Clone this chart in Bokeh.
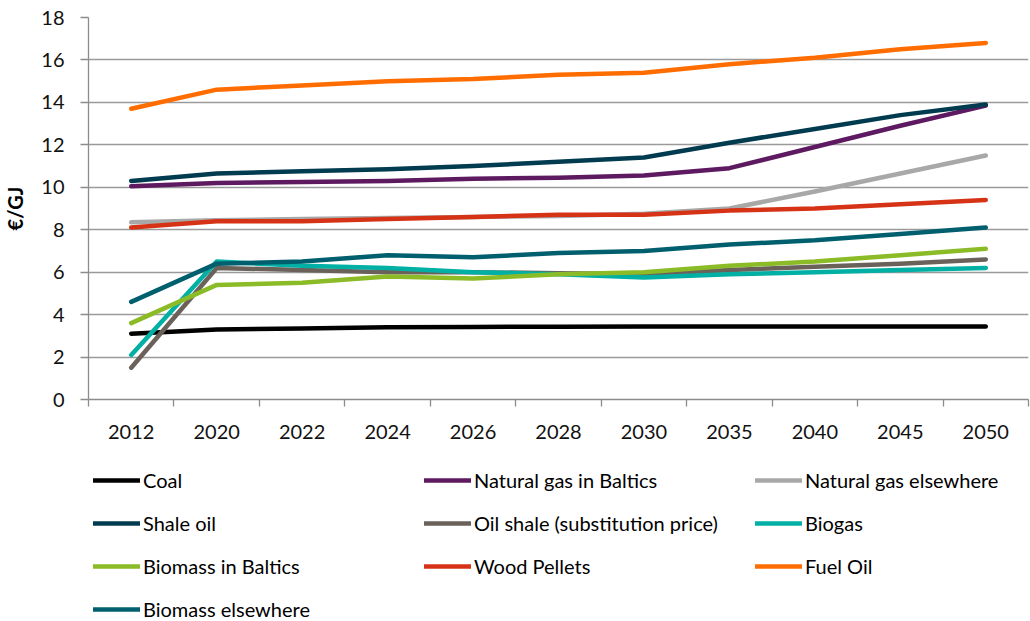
from bokeh.plotting import figure
from bokeh.layouts import column
from bokeh.models import Range1d, FixedTicker, Legend, LegendItem
from bokeh.embed import file_html
from bokeh.resources import INLINE

years = ["2012", "2020", "2022", "2024", "2026", "2028", "2030", "2035", "2040", "2045", "2050"]

coal = [3.1, 3.3, 3.35, 3.4, 3.42, 3.43, 3.44, 3.44, 3.44, 3.44, 3.44]
natural_gas_baltics = [10.05, 10.2, 10.25, 10.3, 10.4, 10.45, 10.55, 10.9, 11.9, 12.9, 13.85]
natural_gas_elsewhere = [8.35, 8.45, 8.5, 8.55, 8.6, 8.65, 8.75, 9.0, 9.8, 10.65, 11.5]
shale_oil = [10.3, 10.65, 10.75, 10.85, 11.0, 11.2, 11.4, 12.1, 12.75, 13.4, 13.9]
oil_shale = [1.5, 6.2, 6.1, 6.0, 6.0, 5.95, 5.9, 6.1, 6.25, 6.4, 6.6]
biogas = [2.1, 6.5, 6.3, 6.2, 6.0, 5.9, 5.75, 5.9, 6.0, 6.1, 6.2]
biomass_baltics = [3.6, 5.4, 5.5, 5.8, 5.7, 5.9, 6.0, 6.3, 6.5, 6.8, 7.1]
wood_pellets = [8.1, 8.4, 8.4, 8.5, 8.6, 8.7, 8.7, 8.9, 9.0, 9.2, 9.4]
fuel_oil = [13.7, 14.6, 14.8, 15.0, 15.1, 15.3, 15.4, 15.8, 16.1, 16.5, 16.8]
biomass_elsewhere = [4.6, 6.4, 6.5, 6.8, 6.7, 6.9, 7.0, 7.3, 7.5, 7.8, 8.1]

series_names = ["Coal", "Natural gas in Baltics", "Natural gas elsewhere", "Shale oil",
                "Oil shale (substitution price)", "Biogas", "Biomass in Baltics",
                "Wood Pellets", "Fuel Oil", "Biomass elsewhere"]
series_values = [coal, natural_gas_baltics, natural_gas_elsewhere, shale_oil, oil_shale,
                 biogas, biomass_baltics, wood_pellets, fuel_oil, biomass_elsewhere]
series_colors = ["#000000", "#5e1a60", "#a8a8a8", "#003b4f", "#6a625a",
                 "#00b0a4", "#8bbb26", "#d63316", "#ff6d00", "#005f6e"]

FONT = "Lato"
FS = "20px"
n = len(years)
xs = [i + 0.5 for i in range(n)]

W = 1030
LEG_H = 160
MAIN_H = 621 - LEG_H

p = figure(width=W, height=MAIN_H, output_backend="svg", toolbar_location=None,
           x_range=Range1d(0, n), y_range=Range1d(0, 18),
           min_border_left=88, min_border_right=2, min_border_top=17,
           min_border_bottom=MAIN_H - 399)
p.outline_line_color = None

# x axis: labels centred on categories, tick marks between categories
p.xaxis.ticker = FixedTicker(ticks=xs, minor_ticks=list(range(n + 1)))
p.xaxis.major_label_overrides = {x: y for x, y in zip(xs, years)}
p.xaxis.major_tick_out = 0
p.xaxis.major_tick_in = 0
p.xaxis.minor_tick_out = 7
p.xaxis.minor_tick_in = 0
p.xaxis.minor_tick_line_color = "#8c8c8c"
p.xaxis.minor_tick_line_width = 1.3
p.xaxis.axis_line_color = "#8c8c8c"
p.xaxis.axis_line_width = 1.3
p.xaxis.major_label_standoff = 18
p.xaxis.major_label_text_font = FONT
p.xaxis.major_label_text_font_size = FS
p.xaxis.major_label_text_color = "#111111"

p.yaxis.ticker = FixedTicker(ticks=list(range(0, 19, 2)))
p.yaxis.major_tick_out = 8
p.yaxis.major_tick_in = 0
p.yaxis.minor_tick_line_color = None
p.yaxis.axis_line_color = "#8c8c8c"
p.yaxis.axis_line_width = 1.3
p.yaxis.major_tick_line_color = "#8c8c8c"
p.yaxis.major_tick_line_width = 1.3
p.yaxis.major_label_standoff = 16
p.yaxis.major_label_text_font = FONT
p.yaxis.major_label_text_font_size = FS
p.yaxis.major_label_text_color = "#111111"
p.yaxis.axis_label = "€/GJ"
p.yaxis.axis_label_text_font = FONT
p.yaxis.axis_label_text_font_size = FS
p.yaxis.axis_label_text_font_style = "bold"
p.yaxis.axis_label_text_color = "#000000"
p.yaxis.axis_label_standoff = 11

p.xgrid.grid_line_color = None
p.ygrid.grid_line_color = "#9a9a9a"
p.ygrid.grid_line_width = 1.3

for vals, col in zip(series_values, series_colors):
    p.line(xs, vals, line_color=col, line_width=4.5, line_cap="round", line_join="round")

# legend panel underneath the chart
lg = figure(width=W, height=LEG_H, output_backend="svg", toolbar_location=None,
            x_range=Range1d(0, 1), y_range=Range1d(0, 1),
            min_border_left=88, min_border_right=2, min_border_top=0, min_border_bottom=0)
lg.axis.visible = False
lg.grid.visible = False
lg.outline_line_color = None

nan = float("nan")
items = []
for name, col in zip(series_names, series_colors):
    r = lg.line([nan], [nan], line_color=col, line_width=4.5, line_cap="round")
    items.append(LegendItem(label=name, renderers=[r]))

legend = Legend(items=items, ncols=3, orientation="horizontal", location=(5, 0),
                glyph_width=47, glyph_height=24, label_standoff=3, label_width=262,
                label_height=24, spacing=19, padding=0, margin=0,
                border_line_color=None, background_fill_alpha=0,
                label_text_font=FONT, label_text_font_size=FS, label_text_color="#000000")
lg.add_layout(legend)

layout = column(p, lg, spacing=0)
open("out.html", "w").write(file_html(layout, INLINE))
